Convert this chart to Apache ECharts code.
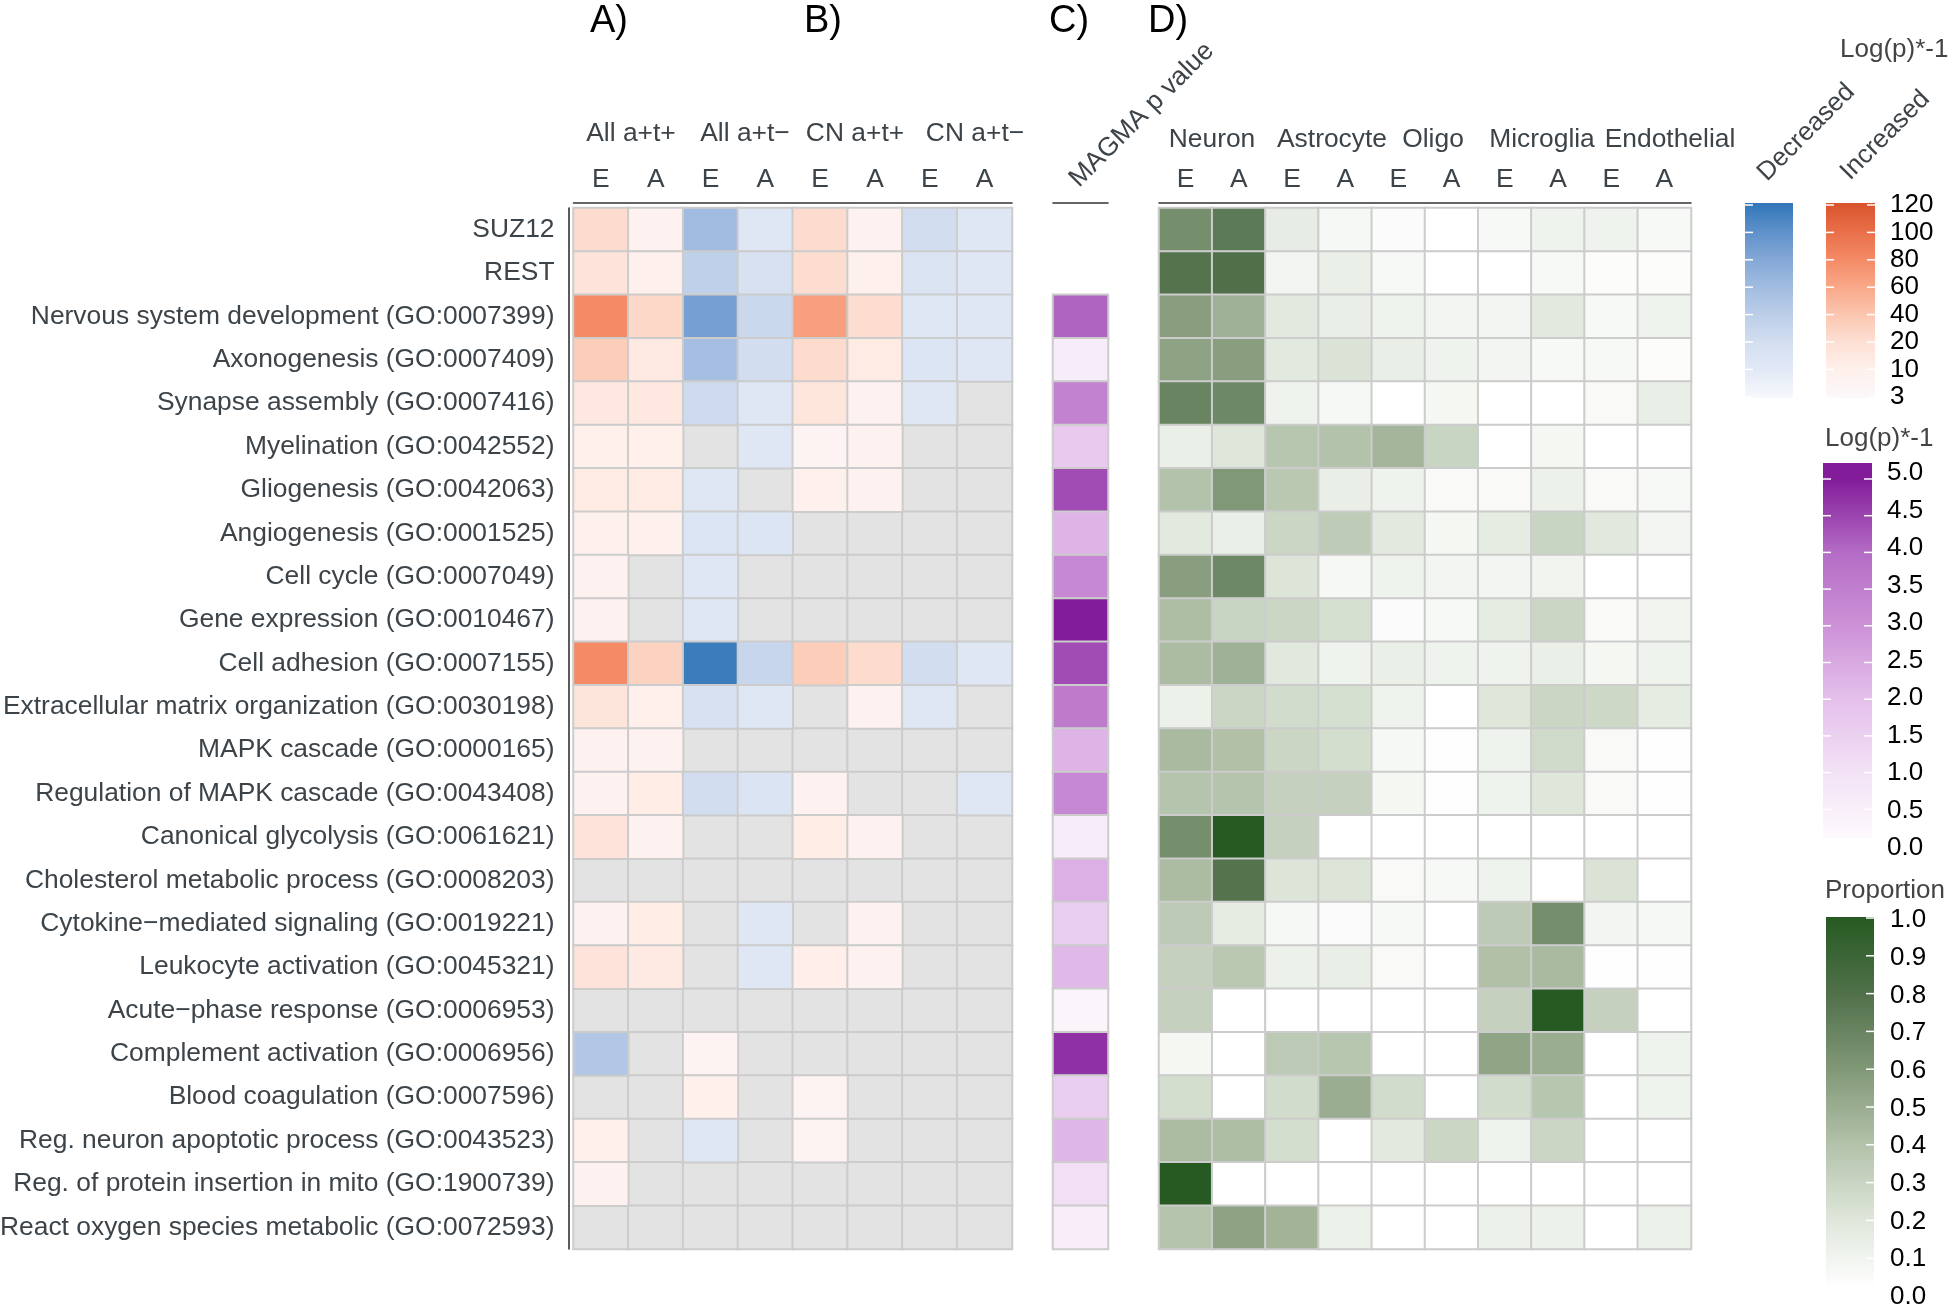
<!DOCTYPE html>
<html>
<head>
<meta charset="utf-8">
<script src="https://cdn.jsdelivr.net/npm/echarts@6/dist/echarts.min.js"></script>
<style>
html, body { margin: 0; padding: 0; background: #fff; }
#main { width: 1952px; height: 1308px; }
</style>
</head>
<body>
<div id="main"></div>
<script>
var rowLabels = [
	'SUZ12', 'REST',
	'Nervous system development (GO:0007399)',
	'Axonogenesis (GO:0007409)',
	'Synapse assembly (GO:0007416)',
	'Myelination (GO:0042552)',
	'Gliogenesis (GO:0042063)',
	'Angiogenesis (GO:0001525)',
	'Cell cycle (GO:0007049)',
	'Gene expression (GO:0010467)',
	'Cell adhesion (GO:0007155)',
	'Extracellular matrix organization (GO:0030198)',
	'MAPK cascade (GO:0000165)',
	'Regulation of MAPK cascade (GO:0043408)',
	'Canonical glycolysis (GO:0061621)',
	'Cholesterol metabolic process (GO:0008203)',
	'Cytokine\u2212mediated signaling (GO:0019221)',
	'Leukocyte activation (GO:0045321)',
	'Acute\u2212phase response (GO:0006953)',
	'Complement activation (GO:0006956)',
	'Blood coagulation (GO:0007596)',
	'Reg. neuron apoptotic process (GO:0043523)',
	'Reg. of protein insertion in mito (GO:1900739)',
	'React oxygen species metabolic (GO:0072593)'
];

var abCols = ['E', 'A', 'E', 'A', 'E', 'A', 'E', 'A'];
var abGroups = ['All a+t+', 'All a+t\u2212', 'CN a+t+', 'CN a+t\u2212'];
var cellCols = ['E', 'A', 'E', 'A', 'E', 'A', 'E', 'A', 'E', 'A'];
var cellGroups = ['Neuron', 'Astrocyte', 'Oligo', 'Microglia', 'Endothelial'];

// log(p)*-1, negative = decreased, null = not significant
var abValues = [
	[23, 8, -60, -12, 23, 8, -20, -12],
	[18, 9, -38, -17, 22, 9, -15, -12],
	[80, 26, -88, -28, 66, 22, -12, -12],
	[35, 14, -58, -20, 24, 13, -14, -12],
	[15, 15, -24, -12, 16, 8, -12, null],
	[10, 10, null, -12, 7, 8, null, null],
	[13, 13, -12, null, 9, 8, null, null],
	[9, 9, -14, -14, null, null, null, null],
	[8, null, -12, null, null, null, null, null],
	[8, null, -12, null, null, null, null, null],
	[80, 31, -117, -30, 35, 24, -20, -12],
	[17, 10, -17, -12, null, 8, -12, null],
	[8, 8, null, null, null, null, null, null],
	[8, 12, -20, -15, 8, null, null, -12],
	[18, 8, null, null, 12, 8, null, null],
	[null, null, null, null, null, null, null, null],
	[8, 12, null, -12, null, 8, null, null],
	[18, 14, null, -12, 11, 8, null, null],
	[null, null, null, null, null, null, null, null],
	[-48, null, 7, null, null, null, null, null],
	[null, null, 10, null, 7, null, null, null],
	[10, null, -12, null, 7, null, null, null],
	[8, null, null, null, null, null, null, null],
	[null, null, null, null, null, null, null, null]
];

var magmaValues = [null, null, 4.1, 0.6, 3.4, 1.7, 4.4, 2.25, 3.25, 5.0, 4.4, 3.6,
	2.25, 3.25, 0.6, 2.35, 1.6, 2.15, 0.25, 4.75, 1.6, 2.2, 1.1, 0.55];

var propValues = [
	[0.65, 0.75, 0.15, 0.06, 0.03, 0.00, 0.05, 0.10, 0.10, 0.05],
	[0.78, 0.80, 0.08, 0.13, 0.05, 0.00, 0.00, 0.05, 0.02, 0.02],
	[0.57, 0.48, 0.18, 0.14, 0.10, 0.08, 0.08, 0.18, 0.05, 0.10],
	[0.55, 0.57, 0.18, 0.22, 0.14, 0.10, 0.08, 0.05, 0.05, 0.02],
	[0.70, 0.68, 0.10, 0.06, 0.00, 0.07, 0.00, 0.00, 0.04, 0.14],
	[0.13, 0.20, 0.38, 0.40, 0.46, 0.30, 0.00, 0.07, 0.00, 0.00],
	[0.40, 0.60, 0.37, 0.14, 0.10, 0.04, 0.04, 0.12, 0.04, 0.05],
	[0.18, 0.13, 0.29, 0.35, 0.18, 0.07, 0.16, 0.30, 0.19, 0.08],
	[0.57, 0.68, 0.21, 0.06, 0.10, 0.08, 0.08, 0.09, 0.00, 0.00],
	[0.42, 0.30, 0.29, 0.24, 0.03, 0.05, 0.16, 0.29, 0.04, 0.09],
	[0.43, 0.48, 0.19, 0.10, 0.13, 0.10, 0.10, 0.13, 0.07, 0.10],
	[0.12, 0.29, 0.26, 0.24, 0.10, 0.00, 0.20, 0.29, 0.28, 0.16],
	[0.44, 0.41, 0.29, 0.25, 0.06, 0.01, 0.10, 0.27, 0.04, 0.01],
	[0.39, 0.39, 0.32, 0.32, 0.07, 0.01, 0.10, 0.20, 0.04, 0.01],
	[0.65, 1.00, 0.32, 0.00, 0.00, 0.00, 0.00, 0.00, 0.00, 0.00],
	[0.43, 0.78, 0.21, 0.21, 0.04, 0.05, 0.10, 0.00, 0.22, 0.00],
	[0.36, 0.16, 0.06, 0.03, 0.05, 0.00, 0.36, 0.65, 0.08, 0.06],
	[0.32, 0.37, 0.12, 0.14, 0.04, 0.00, 0.41, 0.44, 0.01, 0.01],
	[0.32, 0.00, 0.00, 0.00, 0.00, 0.00, 0.32, 1.00, 0.32, 0.00],
	[0.07, 0.00, 0.36, 0.38, 0.00, 0.00, 0.54, 0.50, 0.00, 0.10],
	[0.25, 0.00, 0.26, 0.50, 0.26, 0.00, 0.26, 0.38, 0.00, 0.10],
	[0.43, 0.42, 0.25, 0.00, 0.18, 0.29, 0.10, 0.29, 0.00, 0.00],
	[1.00, 0.00, 0.00, 0.00, 0.00, 0.00, 0.00, 0.00, 0.00, 0.00],
	[0.39, 0.55, 0.47, 0.12, 0.00, 0.00, 0.12, 0.12, 0.00, 0.12]
];

var divTicks = [3, 10, 20, 40, 60, 80, 100, 120];
var magmaTicks = [0, 0.5, 1, 1.5, 2, 2.5, 3, 3.5, 4, 4.5, 5];
var propTicks = [0, 0.1, 0.2, 0.3, 0.4, 0.5, 0.6, 0.7, 0.8, 0.9, 1];

// colours (one per divTicks step / per unit)
var redStops = ['#fbf8fa', '#fff0eb', '#fde0d4', '#fcc6b0', '#f9a88a', '#f48b66', '#e9704a', '#d9552f'];
var blueStops = ['#f6f8fc', '#e2e9f6', '#d2def0', '#bccee9', '#a2bce1', '#84a8d7', '#6091ca', '#3478bb'];
var purpleStops = ['#fdfafd', '#f3e2f6', '#e4c0eb', '#cd91d7', '#b46cc5', '#821c9a'];
var greenStops = ['#ffffff', '#dfe7db', '#b3c2aa', '#819877', '#50704a', '#275a22'];

var FONT = '"Liberation Sans", Arial, Helvetica, sans-serif';
var LABEL = '#3d4449';

// position of a value on the non-linear legend scale (0..7)
function toPos(v) {
	var a = Math.abs(v), t = divTicks, p = t.length - 1;
	if (a <= t[0]) {
		p = 0;
	} else {
		for (var i = 1; i < t.length; i++) {
			if (a <= t[i]) { p = (i - 1) + (a - t[i - 1]) / (t[i] - t[i - 1]); break; }
		}
	}
	return v < 0 ? -p : p;
}

var naCells = [], abCells = [], magmaCells = [], propCells = [];
for (var r = 0; r < rowLabels.length; r++) {
	for (var c = 0; c < abCols.length; c++) {
		var v = abValues[r][c];
		if (v == null) naCells.push([c, r, 0]);
		else abCells.push([c, r, toPos(v), v]);
	}
	if (magmaValues[r] != null) magmaCells.push([0, r, magmaValues[r]]);
	for (var k = 0; k < cellCols.length; k++) propCells.push([k, r, propValues[r][k]]);
}

var divColors = blueStops.slice(1).reverse().concat(['#f9f8fb']).concat(redStops.slice(1));

function topAxis(gi, data) {
	return {
		type: 'category', gridIndex: gi, data: data, position: 'top', offset: 5,
		axisLine: { lineStyle: { color: '#333', width: 1.6 } },
		axisTick: { alignWithLabel: true, length: 8, lineStyle: { color: '#333', width: 1.6 } },
		axisLabel: { fontSize: 26.4, fontFamily: FONT, color: LABEL, margin: 10, interval: 0 },
		splitLine: { show: false }
	};
}

function hiddenY(gi) {
	return {
		type: 'category', gridIndex: gi, data: rowLabels, inverse: true,
		axisLine: { show: false }, axisTick: { show: false }, axisLabel: { show: false },
		splitLine: { show: false }
	};
}

var cellStyle = { borderColor: '#cccccc', borderWidth: 2 };

// ----- legends and header texts -----
var graphics = [];
function txt(x, y, s, o) {
	o = o || {};
	graphics.push({
		type: 'text', x: x, y: y, rotation: o.rot || 0, z: 20,
		style: {
			text: s, fill: o.fill || '#000', fontSize: o.size || 26, fontFamily: FONT,
			align: o.align || 'left', verticalAlign: o.va || 'middle'
		}
	});
}
function dash(x1, x2, y) {
	graphics.push({ type: 'line', z: 21, shape: { x1: x1, y1: y, x2: x2, y2: y },
		style: { stroke: '#ffffff', lineWidth: 1.5 } });
}
function bar(x, y, w, h, stops) {
	graphics.push({ type: 'rect', z: 19, shape: { x: x, y: y, width: w, height: h },
		style: { fill: new echarts.graphic.LinearGradient(0, 0, 0, 1, stops) } });
}

txt(609, 22, 'A)', { size: 38, align: 'center' });
txt(823, 22, 'B)', { size: 38, align: 'center' });
txt(1069, 22, 'C)', { size: 38, align: 'center' });
txt(1168, 22, 'D)', { size: 38, align: 'center' });

var abGroupX = [631, 745, 855, 975];
abGroups.forEach(function (g, i) { txt(abGroupX[i], 134, g, { fill: LABEL, align: 'center', size: 26.4 }); });
var cellGroupX = [1212, 1332, 1433, 1542, 1670];
cellGroups.forEach(function (g, i) { txt(cellGroupX[i], 140, g, { fill: LABEL, align: 'center', size: 26.4 }); });

txt(1083, 192, 'MAGMA p value', { fill: LABEL, rot: Math.PI / 4, va: 'bottom', size: 26.4 });

// diverging legend
txt(1840, 50, 'Log(p)*-1', { fill: '#444' });
txt(1771, 186, 'Decreased', { fill: LABEL, rot: Math.PI / 4, va: 'bottom' });
txt(1854, 185, 'Increased', { fill: LABEL, rot: Math.PI / 4, va: 'bottom' });
function divY(k) { return 205 + (divTicks.length - 1 - k) * 27.4; }
var bStops = [], rStops = [];
for (var k = divTicks.length - 1; k >= 0; k--) {
	var off = (divY(k) - 203) / 195;
	bStops.push({ offset: off, color: blueStops[k] });
	rStops.push({ offset: off, color: redStops[k] });
}
bar(1745, 203, 48, 195, bStops);
bar(1826, 203, 49, 195, rStops);
divTicks.forEach(function (t, k) {
	var y = divY(k);
	dash(1745, 1753, y);
	dash(1826, 1834, y);
	dash(1867, 1875, y);
	txt(1890, y, String(t));
});

// MAGMA legend
txt(1825, 439, 'Log(p)*-1', { fill: '#444' });
var pStops = [];
for (var i = purpleStops.length - 1; i >= 0; i--) {
	pStops.push({ offset: Math.min(1, Math.max(0, (846 - 73.4 * i - 463) / 375)), color: purpleStops[i] });
}
bar(1823, 463, 49, 375, pStops);
magmaTicks.forEach(function (t) {
	if (t > 0) { dash(1823, 1831, 846 - 73.4 * t); dash(1864, 1872, 846 - 73.4 * t); }
	txt(1887, 848 - 75 * t, t.toFixed(1));
});

// proportion legend
txt(1825, 891, 'Proportion', { fill: '#444' });
var gStops = [];
for (var j = greenStops.length - 1; j >= 0; j--) {
	gStops.push({ offset: Math.min(1, Math.max(0, (1296 - 378 * (j / 5) - 917) / 371)), color: greenStops[j] });
}
bar(1826, 917, 48, 371, gStops);
propTicks.forEach(function (t) {
	if (t > 0) dash(1866, 1874, 1296 - 378 * t);
	txt(1890, 1297 - 377 * t, t.toFixed(1));
});

var chart = echarts.init(document.getElementById('main'), null, { renderer: 'canvas' });
chart.setOption({
	animation: false,
	backgroundColor: '#ffffff',
	textStyle: { fontFamily: FONT },
	grid: [
		{ left: 573.5, top: 208, width: 438.5, height: 1041, outerBoundsMode: 'none' },
		{ left: 1053, top: 208, width: 55, height: 1041, outerBoundsMode: 'none' },
		{ left: 1159, top: 208, width: 532, height: 1041, outerBoundsMode: 'none' }
	],
	xAxis: [topAxis(0, abCols), topAxis(1, ['']), topAxis(2, cellCols)],
	yAxis: [
		{
			type: 'category', gridIndex: 0, data: rowLabels, inverse: true, offset: 5,
			axisLine: { lineStyle: { color: '#333', width: 1.6 } },
			axisTick: { alignWithLabel: true, length: 8, lineStyle: { color: '#333', width: 1.6 } },
			axisLabel: { fontSize: 26.4, fontFamily: FONT, color: LABEL, margin: 14, interval: 0 },
			splitLine: { show: false }
		},
		hiddenY(1), hiddenY(2)
	],
	visualMap: [
		{ type: 'continuous', show: false, seriesIndex: 1, dimension: 2, min: -7, max: 7, inRange: { color: divColors } },
		{ type: 'continuous', show: false, seriesIndex: 2, dimension: 2, min: 0, max: 5, inRange: { color: purpleStops } },
		{ type: 'continuous', show: false, seriesIndex: 3, dimension: 2, min: 0, max: 1, inRange: { color: greenStops } }
	],
	series: [
		{ type: 'heatmap', xAxisIndex: 0, yAxisIndex: 0, data: naCells, silent: true,
			itemStyle: { color: '#e3e3e3', borderColor: '#cccccc', borderWidth: 2 }, emphasis: { disabled: true } },
		{ type: 'heatmap', xAxisIndex: 0, yAxisIndex: 0, data: abCells, itemStyle: cellStyle, emphasis: { disabled: true } },
		{ type: 'heatmap', xAxisIndex: 1, yAxisIndex: 1, data: magmaCells, itemStyle: cellStyle, emphasis: { disabled: true } },
		{ type: 'heatmap', xAxisIndex: 2, yAxisIndex: 2, data: propCells, itemStyle: cellStyle, emphasis: { disabled: true } }
	],
	graphic: graphics
});
</script>
</body>
</html>
